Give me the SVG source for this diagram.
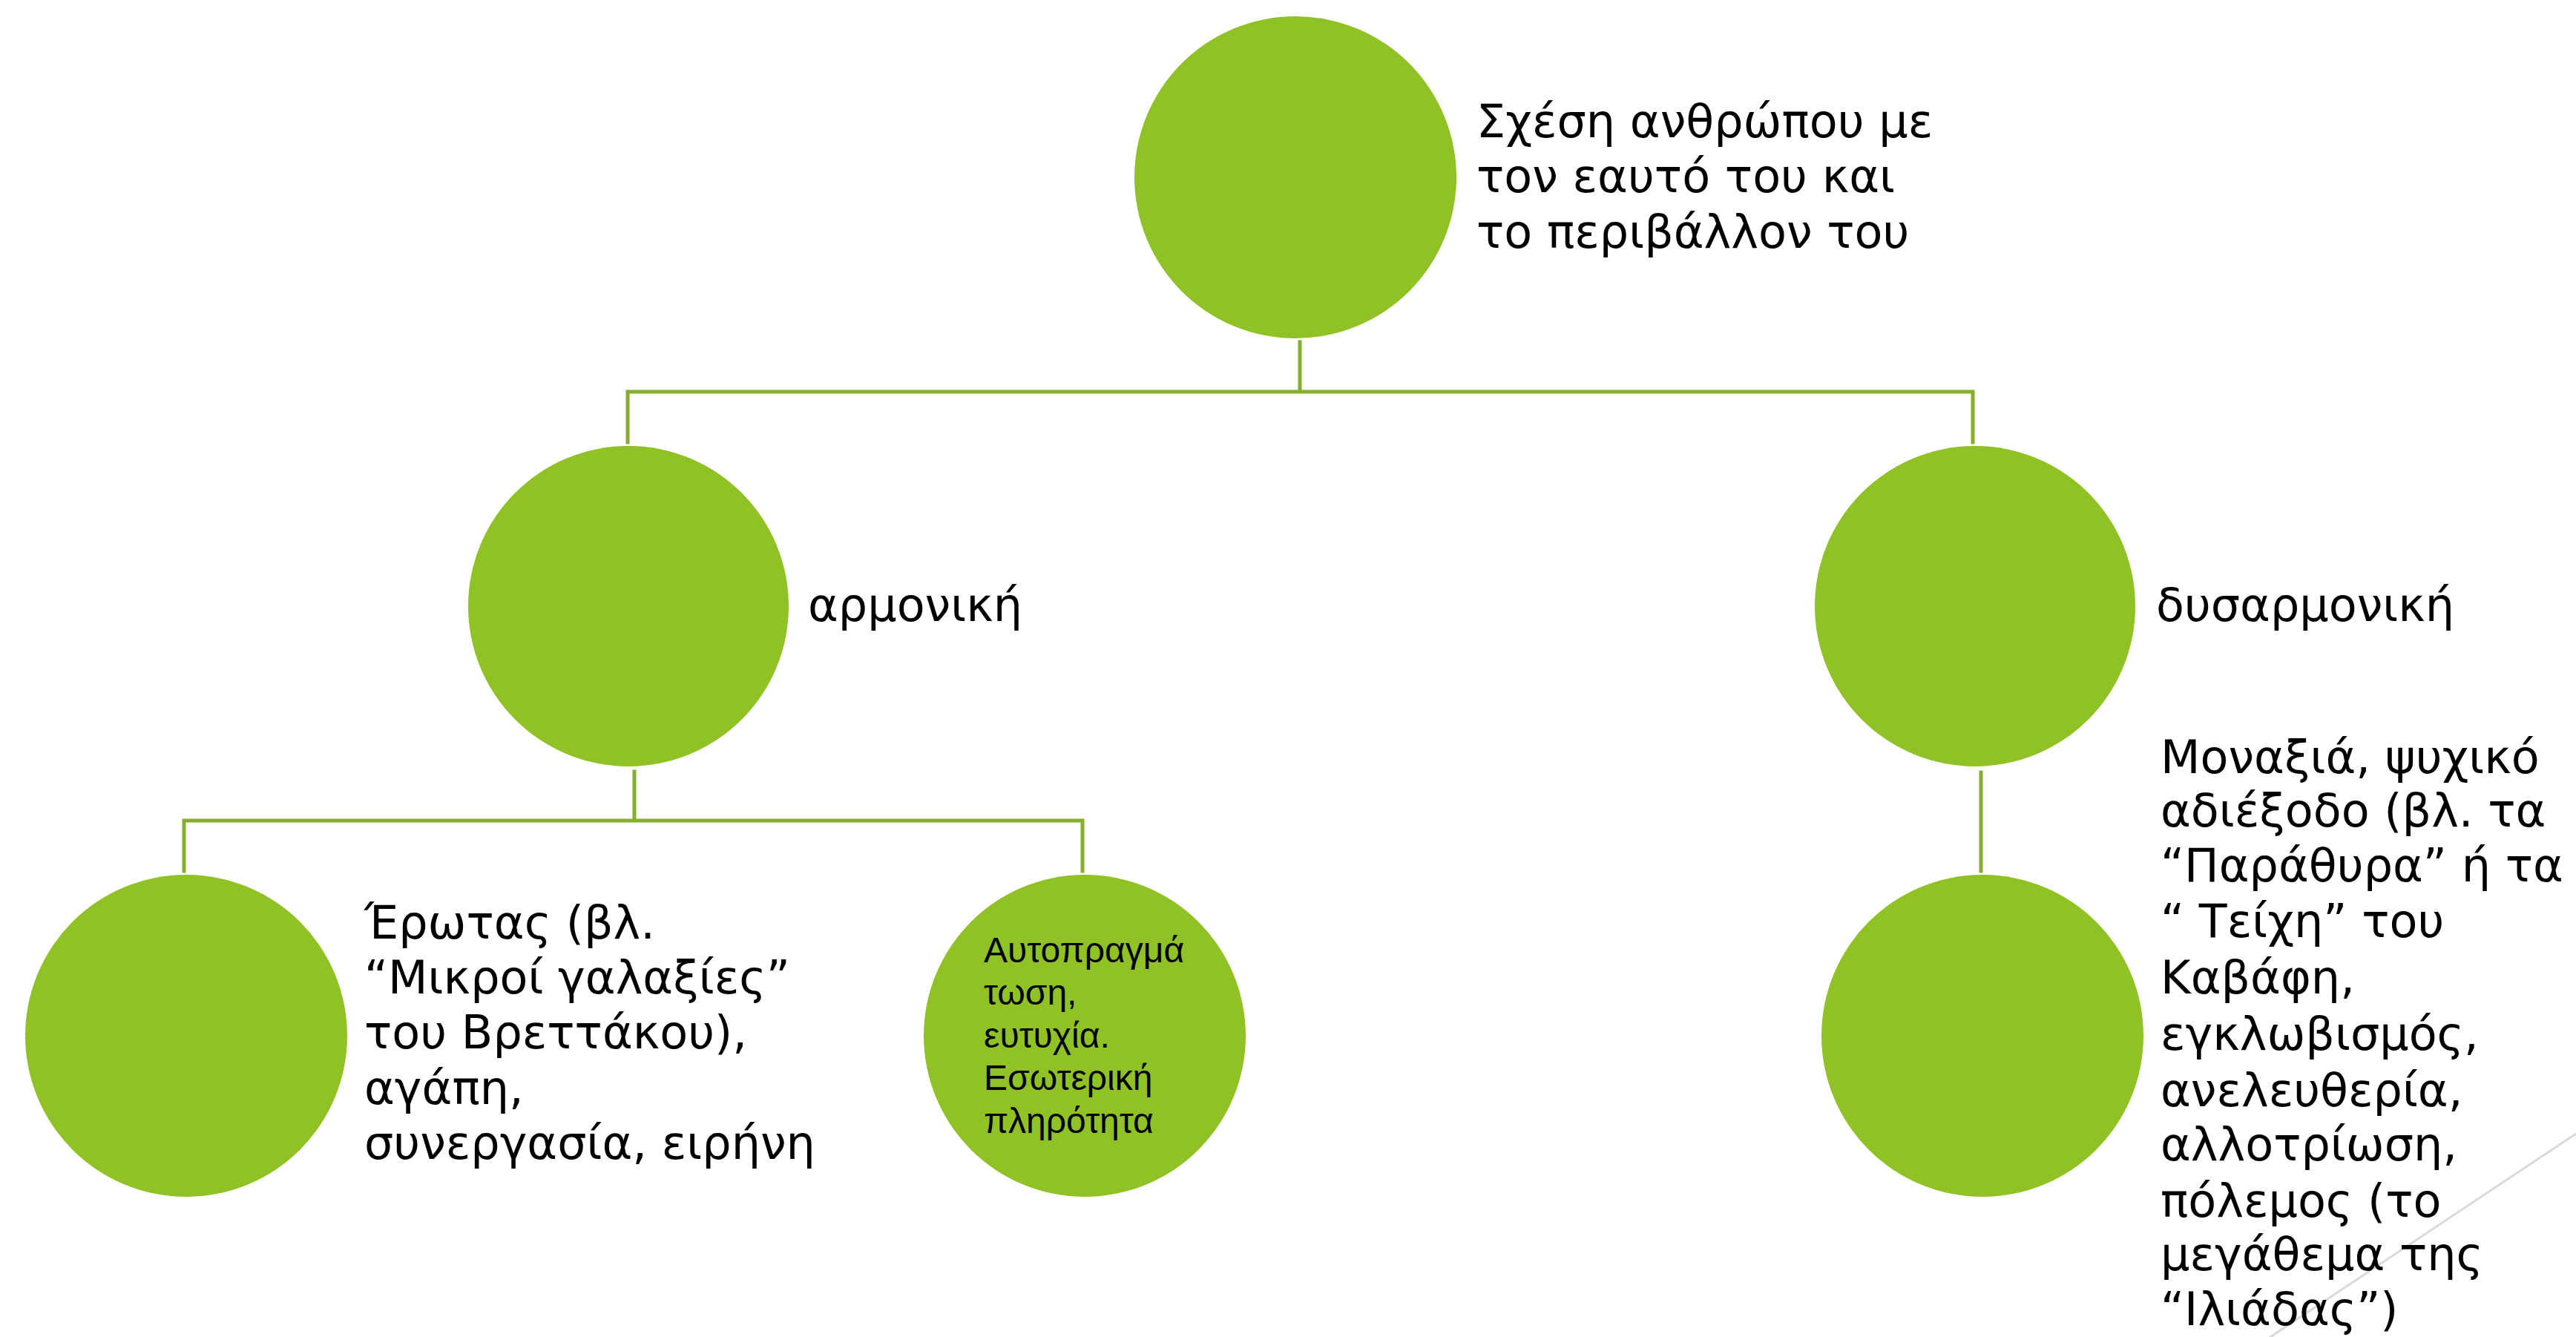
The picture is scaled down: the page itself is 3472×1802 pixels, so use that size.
<svg xmlns="http://www.w3.org/2000/svg" width="3472" height="1802" viewBox="0 0 3472 1802">
<style>
.node{fill:#90C226}
.conn{stroke:#84AE2C;stroke-width:5;fill:none;stroke-linecap:square}
.lbl{font-family:"DejaVu Sans","Noto Sans",sans-serif;font-size:62px;fill:#000}
.inner{font-family:"Liberation Sans",Arial,sans-serif;font-size:48px;fill:#000}
</style>
<rect width="3472" height="1802" fill="#fff"/>
<line x1="3520" y1="1496" x2="3030" y2="1822" stroke="#d9d9d9" stroke-width="3"/>
<g id="connectors">
<path class="conn" d="M1752 461 V528 M846 596 V528 H2659 V596"/>
<path class="conn" d="M855 1040 V1106 M248 1174 V1106 H1459 V1174"/>
<path class="conn" d="M2670 1041 V1174"/>
</g>
<g id="node-root">
<circle class="node" cx="1746" cy="239" r="217"/>
<text class="lbl"><tspan x="1990" y="185">Σχέση ανθρώπου με</tspan><tspan x="1990" y="259">τον εαυτό του και</tspan><tspan x="1990" y="334">το περιβάλλον του</tspan></text>
</g>
<g id="node-harmonic">
<circle class="node" cx="847" cy="817" r="216"/>
<text class="lbl" x="1089" y="837">αρμονική</text>
</g>
<g id="node-disharmonic">
<circle class="node" cx="2662" cy="817" r="216"/>
<text class="lbl" x="2906" y="837">δυσαρμονική</text>
</g>
<g id="node-love">
<circle class="node" cx="251" cy="1396" r="217"/>
<text class="lbl"><tspan x="491" y="1265">Έρωτας (βλ.</tspan><tspan x="491" y="1339">“Μικροί γαλαξίες”</tspan><tspan x="491" y="1413">του Βρεττάκου),</tspan><tspan x="491" y="1488">αγάπη,</tspan><tspan x="491" y="1562">συνεργασία, ειρήνη</tspan></text>
</g>
<g id="node-self">
<circle class="node" cx="1462" cy="1396" r="217"/>
<text class="inner"><tspan x="1326" y="1297">Αυτοπραγμά</tspan><tspan x="1326" y="1354">τωση,</tspan><tspan x="1326" y="1412">ευτυχία.</tspan><tspan x="1326" y="1469">Εσωτερική</tspan><tspan x="1326" y="1527">πληρότητα</tspan></text>
</g>
<g id="node-loneliness">
<circle class="node" cx="2672" cy="1396" r="217"/>
<text class="lbl"><tspan x="2912" y="1042">Μοναξιά, ψυχικό</tspan><tspan x="2912" y="1114">αδιέξοδο (βλ. τα</tspan><tspan x="2912" y="1188">“Παράθυρα” ή τα</tspan><tspan x="2912" y="1263">“ Τείχη” του</tspan><tspan x="2912" y="1339">Καβάφη,</tspan><tspan x="2912" y="1415">εγκλωβισμός,</tspan><tspan x="2912" y="1491">ανελευθερία,</tspan><tspan x="2912" y="1564">αλλοτρίωση,</tspan><tspan x="2912" y="1640">πόλεμος (το</tspan><tspan x="2912" y="1712">μεγάθεμα της</tspan><tspan x="2912" y="1786">“Ιλιάδας”)</tspan></text>
</g>
</svg>
